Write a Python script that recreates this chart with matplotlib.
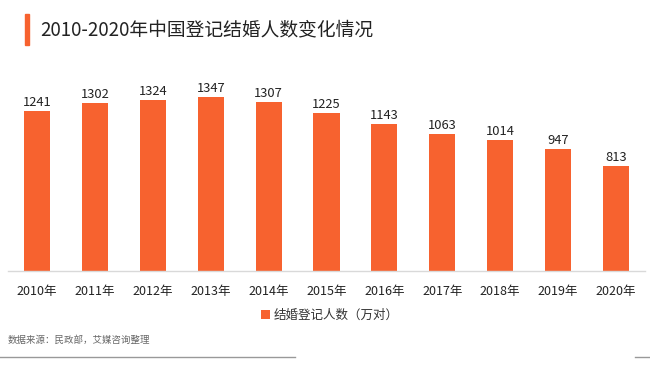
import matplotlib
matplotlib.use("Agg")
import matplotlib.pyplot as plt
from matplotlib.patches import Rectangle
from matplotlib.lines import Line2D

plt.rcParams['font.family'] = ['Noto Sans CJK SC', 'DejaVu Sans']

years = ['2010年', '2011年', '2012年', '2013年', '2014年', '2015年',
         '2016年', '2017年', '2018年', '2019年', '2020年']
values = [1241, 1302, 1324, 1347, 1307, 1225, 1143, 1063, 1014, 947, 813]
series_name = '结婚登记人数（万对）'
title = '2010-2020年中国登记结婚人数变化情况'
source = '数据来源：民政部，艾媒咨询整理'

W, H = 650, 366
fig = plt.figure(figsize=(W / 100, H / 100), dpi=100)
color = '#F7622F'

ax = fig.add_axes([8 / W, 1 - 271 / H, 637 / W, 193.5 / H])
x = list(range(len(years)))
bars = ax.bar(x, values, width=0.45, color=color, label=series_name)
for xi, v in zip(x, values):
    ax.text(xi, v + 15, str(v), ha='center', va='bottom', fontsize=9.3, color='#222222')
ax.set_xlim(-0.5, 10.5)
ax.set_ylim(0, 1500)
ax.set_xticks(x)
ax.set_xticklabels(years, fontsize=9, color='#222222')
ax.tick_params(axis='x', length=0, pad=10)
ax.set_yticks([])
for s in ['top', 'right', 'left']:
    ax.spines[s].set_visible(False)
ax.spines['bottom'].set_color('#d9d9d9')
ax.spines['bottom'].set_linewidth(1)

leg = fig.legend(handles=[bars], labels=[series_name], loc='center',
                 bbox_to_anchor=(330 / W, 1 - 315 / H), frameon=False,
                 fontsize=9, handlelength=0.7, handleheight=0.7,
                 handletextpad=0.3)
for t in leg.get_texts():
    t.set_color('#333333')

# title
fig.patches.append(Rectangle((25 / W, 1 - 45 / H), 4 / W, 31 / H,
                             transform=fig.transFigure, color=color))
fig.text(40 / W, 1 - 30 / H, title, fontsize=13.5, va='center', ha='left', color='#222222')

# source
fig.text(8 / W, 1 - 340 / H, source, fontsize=6.8, va='center', ha='left', color='#666666')

# bottom lines
fig.lines.append(Line2D([0, 295 / W], [1 - 357 / H] * 2, transform=fig.transFigure,
                        color='#999999', lw=1))
fig.lines.append(Line2D([635 / W, 1], [1 - 357 / H] * 2, transform=fig.transFigure,
                        color='#999999', lw=1))

fig.savefig('out.png', dpi=100)
